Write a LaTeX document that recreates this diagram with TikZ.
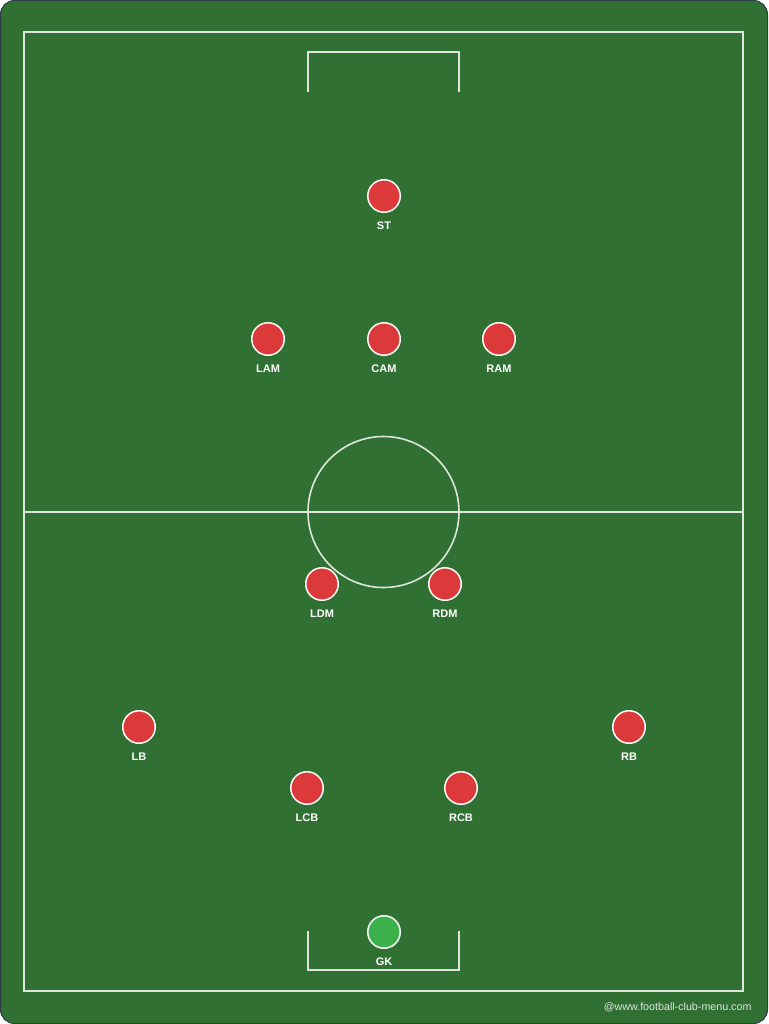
\documentclass[tikz,border=0pt]{standalone}
\usepackage{fontspec}
\setmainfont{Liberation Sans}
\usepackage{tikz}
\usetikzlibrary{positioning}
\definecolor{cesped}{HTML}{317033}
\definecolor{marco}{HTML}{2B3A48}
\definecolor{linea}{HTML}{DDE6DD}
\definecolor{rojo}{HTML}{DC3A3A}
\definecolor{verde}{HTML}{3CB04A}
\tikzset{
  raya/.style={draw=linea, line width=1.6pt},
  jugador/.style={circle, draw=white, line width=1.5pt, fill=rojo, minimum size=32.5pt, inner sep=0pt,
    label={[font=\fontsize{11}{12}\selectfont\bfseries, text=white, inner sep=0pt, text height=8pt, text depth=0pt, label distance=8.5pt]below:#1}},
  portero/.style={jugador=#1, fill=verde}
}
\begin{document}
\begin{tikzpicture}[x=1pt, y=-1pt]
        \useasboundingbox (0,0) rectangle (768,1024);
        % Fondo
        \draw[marco, fill=cesped, line width=1pt, rounded corners=14pt] (0.5,0.5) rectangle (767.5,1023.5);
        % Banda exterior
        \draw[raya] (24,32) rectangle (743,991);
        % Linea central y circulo
        \draw[raya] (24,512) -- (743,512);
        \draw[raya] (383.5,512) circle (75.5);
        % Area de arriba
        \draw[raya] (308,92) -- (308,52) -- (459,52) -- (459,92);
        % Area de abajo
        \draw[raya] (308,931) -- (308,970) -- (459,970) -- (459,931);
        % Delantero
        \node[jugador=ST] (st) at (384,196) {};
        % Mediapuntas
        \node[jugador=LAM] (lam) at (268,339) {};
        \node[jugador=CAM] (cam) at (384,339) {};
        \node[jugador=RAM] (ram) at (499,339) {};
        % Pivotes
        \node[jugador=LDM] (ldm) at (322,584) {};
        \node[jugador=RDM] (rdm) at (445,584) {};
        % Defensas
        \node[jugador=LB] (lb) at (139,727) {};
        \node[jugador=RB] (rb) at (629,727) {};
        \node[jugador=LCB] (lcb) at (307,788) {};
        \node[jugador=RCB] (rcb) at (461,788) {};
        % Portero
        \node[portero=GK] (gk) at (384,932) {};
        % Marca de agua
        \node[text=linea, font=\fontsize{10.7}{12}\selectfont, anchor=east] (web) at (755,1007) {@www.football-club-menu.com};
    \end{tikzpicture}
\end{document}
